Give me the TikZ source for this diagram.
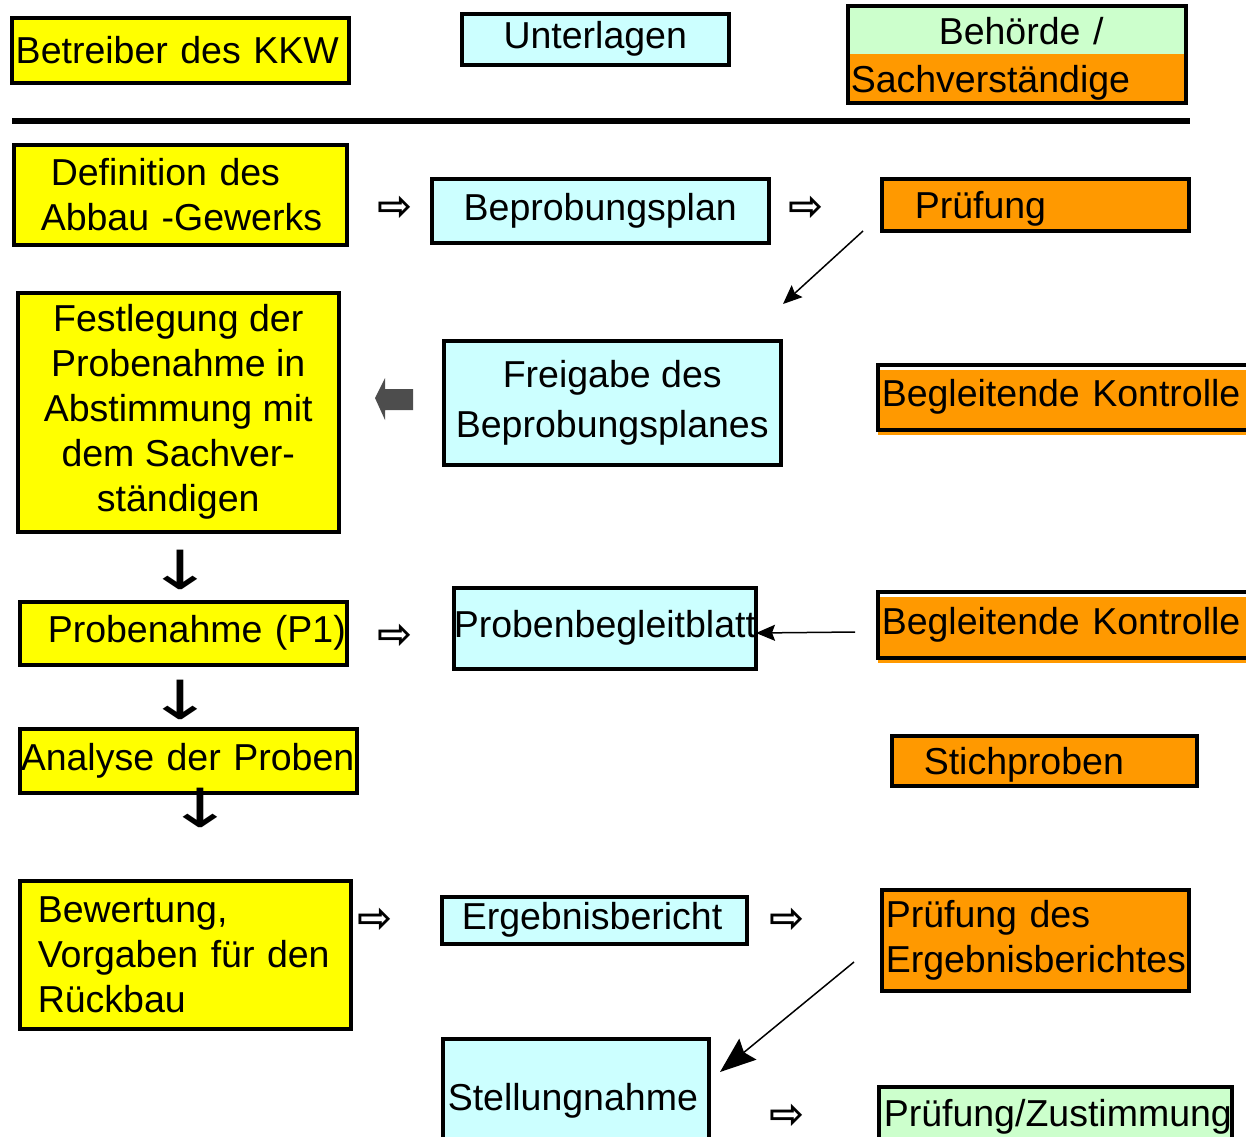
\documentclass[tikz,border=0pt]{standalone}
\usepackage{fontspec}
\setmainfont{Liberation Sans}
\newfontfamily\symbfont{DejaVu Sans}
\usetikzlibrary{arrows.meta}
\definecolor{kkwyellow}{HTML}{FFFF00}
\definecolor{doccyan}{HTML}{CCFFFF}
\definecolor{amtorange}{HTML}{FF9900}
\definecolor{amtgreen}{HTML}{CCFFCC}
\definecolor{blockgray}{HTML}{4D4D4D}
\tikzset{
  box/.style={draw, line width=3.5pt, anchor=north west, inner sep=0pt,
    font=\fontsize{37.5}{45}\selectfont},
  kkw/.style={box, fill=kkwyellow},
  doc/.style={box, fill=doccyan},
  amt/.style={box, fill=amtorange},
  amtshift/.style={box, preaction={fill=amtorange, transform canvas={yshift=-5pt}}},
  zust/.style={box, fill=amtgreen},
  lft/.style 2 args={text width=#1, inner xsep=#2, align=left},
  hollow/.style={font=\symbfont\bfseries\fontsize{42}{42}\selectfont, inner sep=0pt},
  downarr/.style={font=\symbfont\fontsize{54}{54}\selectfont, inner sep=0pt, xscale=1.5},
}
\begin{document}
\begin{tikzpicture}[x=1pt, y=-1pt, >={Stealth[length=19pt,width=16pt,inset=3pt]}]
\useasboundingbox (0,0) rectangle (1246,1136);

% legend
\node[kkw, minimum width=337, minimum height=65, lft={329}{4}] (betreiber) at (10,16) {Betreiber des KKW};
\node[doc, minimum width=267, minimum height=51] (unterlagen) at (460,12) {Unterlagen};
\node[zust, minimum width=338, minimum height=97, lft={332}{3},
  path picture={\fill[amtorange] (path picture bounding box.west) rectangle (path picture bounding box.south east);}]
  (behoerde) at (846,4) {\rule{0pt}{37pt}\hspace*{88pt}Behörde /\\[3pt]Sachverständige};
\draw[line width=6pt] (12,121) -- (1190,121);

% row 1
\node[kkw, minimum width=333, minimum height=100, lft={279}{27}] (definition) at (12,143) {\hspace*{10pt}\mbox{Definition des}\\\mbox{Abbau -Gewerks}};
\node[hollow] (pf1) at (395,208) {⇨};
\node[doc, minimum width=337, minimum height=64] (beprobung) at (430,177) {Beprobungsplan};
\node[hollow] (pf2) at (806,208) {⇨};
\node[amt, minimum width=307, minimum height=52, lft={241}{33}, text depth=0pt] (pruefung) at (880,177) {Prüfung};
\coordinate (pr-out) at (863,231);
\coordinate (fr-in) at (783,304);
\draw[->, line width=1.5pt] (pr-out) -- (fr-in);

% row 2
\node[kkw, minimum width=321, minimum height=239, align=center] (festlegung) at (16,291)
  {Festlegung der\\Probenahme in\\Abstimmung mit\\dem Sachver-\\ständigen};
\fill[blockgray] (375,398) -- (385,378) -- (385,389) -- (413,389) -- (413,410) -- (385,410) -- (385,420) -- cycle;
\node[doc, minimum width=337, minimum height=124, align=center] (freigabe) at (442,339) {Freigabe des\\[5pt]Beprobungsplanes};
\node[amtshift, minimum width=375, minimum height=65, lft={367}{4}] (kontrolle1) at (876,363) {Begleitende Kontrolle};

% row 3
\node[downarr] (down1) at (180,570) {↓};
\node[kkw, minimum width=327, minimum height=63, lft={271}{28}] (probenahme) at (18,600) {\mbox{Probenahme (P1)}};
\node[hollow] (pf3) at (395,636) {⇨};
\node[doc, minimum width=302, minimum height=81] (blatt) at (452,586) {Probenbegleitblatt};
\node[amtshift, minimum width=375, minimum height=66, lft={367}{4}] (kontrolle2) at (876,590) {Begleitende Kontrolle};
\coordinate (ko-out) at (855,632);
\coordinate (bl-in) at (756,633);
\draw[->, line width=1.5pt] (ko-out) -- (bl-in);

% row 4
\node[downarr] (down2) at (180,700) {↓};
\node[kkw, minimum width=337, minimum height=64, lft={335}{1}] (analyse) at (18,727) {Analyse der Proben};
\node[amt, minimum width=305, minimum height=50, lft={241}{32}, text depth=0pt] (stich) at (890,734) {Stichproben};
\node[downarr] (down3) at (200,808) {↓};

% row 5
\node[kkw, minimum width=331, minimum height=148, lft={295}{18}] (bewertung) at (18,879) {Bewertung,\\Vorgaben für den\\Rückbau};
\node[hollow] (pf4) at (375,920) {⇨};
\node[doc, minimum width=305, minimum height=47, lft={265}{20}] (bericht) at (440,895) {Ergebnisbericht};
\node[hollow] (pf5) at (787,920) {⇨};
\node[amt, minimum width=307, minimum height=101, lft={299}{4}] (pruefbericht) at (880,888) {Prüfung des\\Ergebnisberichtes};
\coordinate (pb-out) at (854,962);
\coordinate (st-in) at (720,1072);
\draw[-{Stealth[length=36pt,width=27pt,inset=5pt]}, line width=1.5pt] (pb-out) -- (st-in);

% row 6
\node[doc, minimum width=266, minimum height=124, lft={256}{5}] (stellung) at (441,1037) {Stellungnahme};
\node[hollow] (pf6) at (787,1116) {⇨};
\node[zust, minimum width=353, minimum height=60, lft={343}{5}] (zustimmung) at (877,1085) {\mbox{Prüfung/Zustimmung}};
\end{tikzpicture}
\end{document}
